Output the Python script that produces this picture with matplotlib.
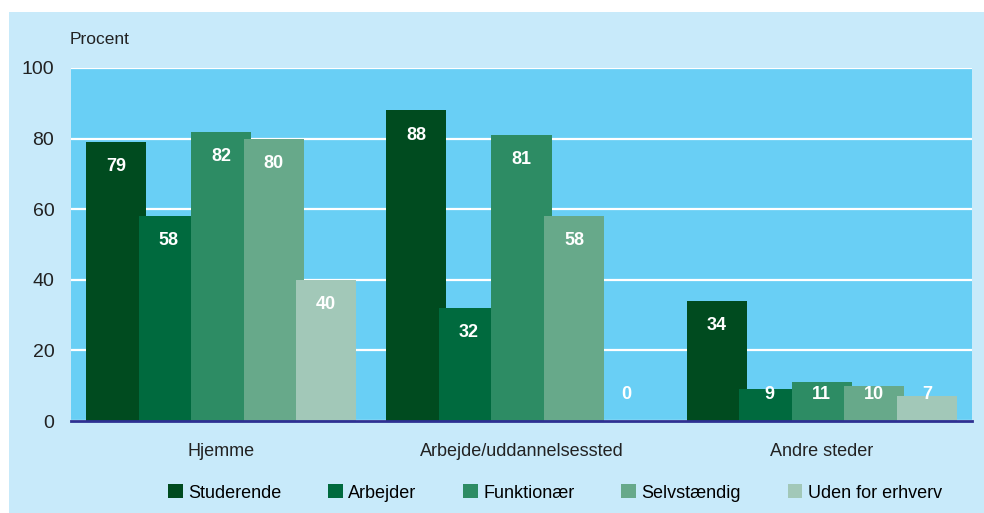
import matplotlib.pyplot as plt
import numpy as np
from matplotlib.patches import Rectangle

# data
places = ['Hjemme', 'Arbejde/uddannelsessted', 'Andre steder']
groups = ['Studerende', 'Arbejder', 'Funktionær', 'Selvstændig', 'Uden for erhverv']
studerende = [79, 88, 34]
arbejder = [58, 32, 9]
funktionaer = [82, 81, 11]
selvstaendig = [80, 58, 10]
uden = [40, 0, 7]
yticks = [0, 20, 40, 60, 80, 100]

colors = ['#004b1f', '#006a3e', '#2d8c64', '#67a98a', '#a2c8b8']

plt.rcParams['font.family'] = ['Liberation Sans', 'DejaVu Sans']

fig = plt.figure(figsize=(9.84, 5.13), dpi=100)
fig.patch.set_facecolor('white')
# light blue panel behind everything
fig.patches.append(Rectangle((9 / 984, 0), 1, 501 / 513, transform=fig.transFigure,
                             facecolor='#c8eafa', edgecolor='none', zorder=-5))

ax = fig.add_axes([71 / 984, 1 - 421 / 513, 901 / 984, 353 / 513])
ax.set_zorder(2)
ax.set_facecolor('#69cff5')

x = np.arange(len(places))
step = 0.175
width = 0.2
series = [studerende, arbejder, funktionaer, selvstaendig, uden]
for i, vals in enumerate(series):
    pos = x + (i - 2) * step
    ax.bar(pos, vals, width=width, color=colors[i], label=groups[i], zorder=3 + i)
    for p, v in zip(pos, vals):
        ax.text(p, max(v - 7, 7.4), str(v), ha='center', va='center', color='white',
                fontsize=13, fontweight='bold', zorder=10)

ax.set_xlim(-0.5, 2.5)
ax.set_ylim(0, 100)
ax.set_yticks(yticks)
ax.set_xticks(x)
ax.set_xticklabels(places)
ax.tick_params(axis='both', length=0, labelsize=13, colors='#222222')
ax.tick_params(axis='y', pad=12, labelsize=14)
ax.tick_params(axis='x', pad=16)
ax.grid(axis='y', color='white', linewidth=1.6, zorder=1)
ax.set_axisbelow(True)
for s in ['top', 'left', 'right']:
    ax.spines[s].set_visible(False)
ax.spines['bottom'].set_color('#2e3192')
ax.spines['bottom'].set_linewidth(2)
ax.spines['bottom'].set_zorder(20)

fig.text(70 / 984, 1 - 40 / 513, 'Procent', fontsize=12.5, color='#222222', va='center')

fig.legend(loc='center', bbox_to_anchor=(555 / 984, 1 - 493 / 513), ncol=5, frameon=False,
           fontsize=13, handlelength=0.8, handleheight=0.8, handletextpad=0.3,
           columnspacing=2.6)

fig.savefig('out.png', dpi=100)
